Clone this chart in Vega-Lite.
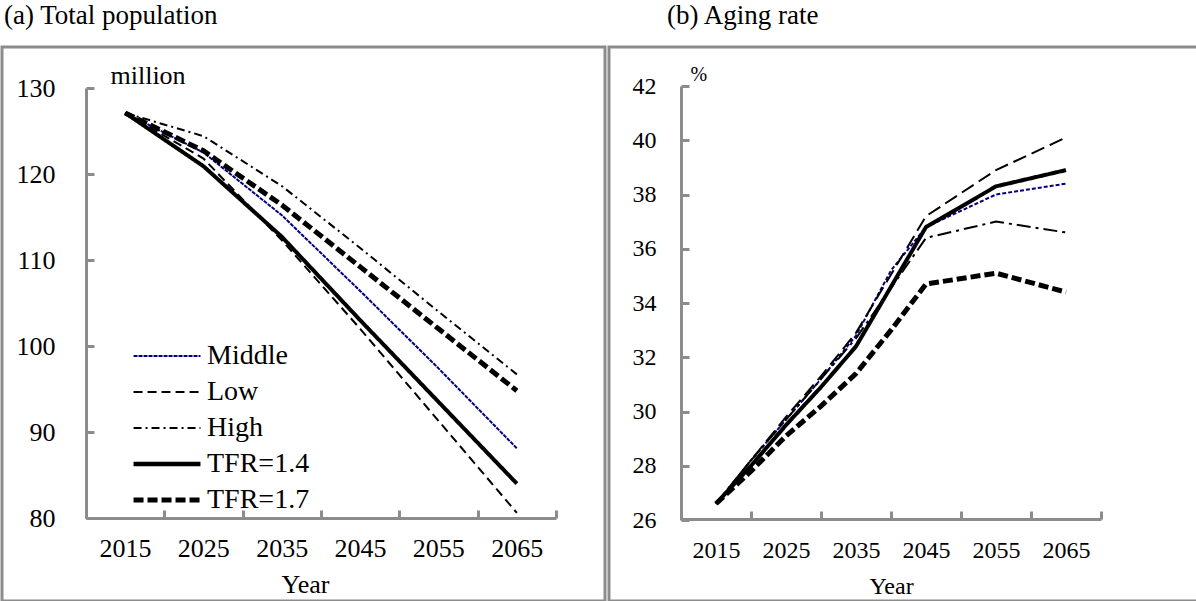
{
  "$schema": "https://vega.github.io/schema/vega-lite/v6.json",
  "padding": 0,
  "spacing": 0,
  "background": "white",
  "config": {
    "view": {"stroke": "#8c8c8c", "strokeWidth": 3},
    "font": "Liberation Serif",
    "title": {"font": "Liberation Serif", "fontSize": 27, "fontWeight": "normal", "anchor": "start", "color": "black", "offset": 17},
    "axis": {
      "labelFont": "Liberation Serif", "titleFont": "Liberation Serif",
      "labelColor": "black", "titleColor": "black", "titleFontWeight": "normal",
      "domainColor": "#8c8c8c", "tickColor": "#8c8c8c", "domainWidth": 3, "tickWidth": 3,
      "grid": false, "tickSize": -8, "labelFlush": false, "labelOverlap": false, "labelBound": false
    },
    "line": {"strokeJoin": "miter", "strokeCap": "butt"}
  },
  "datasets": {
    "pop": [
      {"scenario": "Middle", "year": 2015, "value": 127.1},
      {"scenario": "Middle", "year": 2025, "value": 122.5},
      {"scenario": "Middle", "year": 2035, "value": 115.2},
      {"scenario": "Middle", "year": 2045, "value": 106.4},
      {"scenario": "Middle", "year": 2055, "value": 97.4},
      {"scenario": "Middle", "year": 2065, "value": 88.1},
      {"scenario": "Low", "year": 2015, "value": 127.1},
      {"scenario": "Low", "year": 2025, "value": 121.8},
      {"scenario": "Low", "year": 2035, "value": 112.3},
      {"scenario": "Low", "year": 2045, "value": 102.0},
      {"scenario": "Low", "year": 2055, "value": 91.3},
      {"scenario": "Low", "year": 2065, "value": 80.6},
      {"scenario": "High", "year": 2015, "value": 127.1},
      {"scenario": "High", "year": 2025, "value": 124.4},
      {"scenario": "High", "year": 2035, "value": 118.6},
      {"scenario": "High", "year": 2045, "value": 111.4},
      {"scenario": "High", "year": 2055, "value": 104.0},
      {"scenario": "High", "year": 2065, "value": 96.7},
      {"scenario": "TFR=1.4", "year": 2015, "value": 127.1},
      {"scenario": "TFR=1.4", "year": 2025, "value": 120.9},
      {"scenario": "TFR=1.4", "year": 2035, "value": 112.7},
      {"scenario": "TFR=1.4", "year": 2045, "value": 103.0},
      {"scenario": "TFR=1.4", "year": 2055, "value": 93.5},
      {"scenario": "TFR=1.4", "year": 2065, "value": 84.0},
      {"scenario": "TFR=1.7", "year": 2015, "value": 127.1},
      {"scenario": "TFR=1.7", "year": 2025, "value": 122.7},
      {"scenario": "TFR=1.7", "year": 2035, "value": 116.4},
      {"scenario": "TFR=1.7", "year": 2045, "value": 109.2},
      {"scenario": "TFR=1.7", "year": 2055, "value": 102.0},
      {"scenario": "TFR=1.7", "year": 2065, "value": 94.8}
    ],
    "aging": [
      {"scenario": "Middle", "year": 2015, "value": 26.6},
      {"scenario": "Middle", "year": 2020, "value": 28.2},
      {"scenario": "Middle", "year": 2025, "value": 29.7},
      {"scenario": "Middle", "year": 2030, "value": 31.2},
      {"scenario": "Middle", "year": 2035, "value": 32.8},
      {"scenario": "Middle", "year": 2040, "value": 35.2},
      {"scenario": "Middle", "year": 2045, "value": 36.8},
      {"scenario": "Middle", "year": 2055, "value": 38.0},
      {"scenario": "Middle", "year": 2065, "value": 38.4},
      {"scenario": "Low", "year": 2015, "value": 26.6},
      {"scenario": "Low", "year": 2020, "value": 28.2},
      {"scenario": "Low", "year": 2025, "value": 29.8},
      {"scenario": "Low", "year": 2030, "value": 31.3},
      {"scenario": "Low", "year": 2035, "value": 32.9},
      {"scenario": "Low", "year": 2045, "value": 37.2},
      {"scenario": "Low", "year": 2055, "value": 38.9},
      {"scenario": "Low", "year": 2065, "value": 40.1},
      {"scenario": "High", "year": 2015, "value": 26.6},
      {"scenario": "High", "year": 2020, "value": 28.2},
      {"scenario": "High", "year": 2025, "value": 29.7},
      {"scenario": "High", "year": 2030, "value": 31.2},
      {"scenario": "High", "year": 2035, "value": 32.7},
      {"scenario": "High", "year": 2045, "value": 36.4},
      {"scenario": "High", "year": 2055, "value": 37.0},
      {"scenario": "High", "year": 2065, "value": 36.6},
      {"scenario": "TFR=1.4", "year": 2015, "value": 26.6},
      {"scenario": "TFR=1.4", "year": 2020, "value": 28.0},
      {"scenario": "TFR=1.4", "year": 2025, "value": 29.5},
      {"scenario": "TFR=1.4", "year": 2030, "value": 30.9},
      {"scenario": "TFR=1.4", "year": 2035, "value": 32.4},
      {"scenario": "TFR=1.4", "year": 2045, "value": 36.8},
      {"scenario": "TFR=1.4", "year": 2055, "value": 38.3},
      {"scenario": "TFR=1.4", "year": 2065, "value": 38.9},
      {"scenario": "TFR=1.7", "year": 2015, "value": 26.6},
      {"scenario": "TFR=1.7", "year": 2020, "value": 27.8},
      {"scenario": "TFR=1.7", "year": 2025, "value": 29.1},
      {"scenario": "TFR=1.7", "year": 2030, "value": 30.2},
      {"scenario": "TFR=1.7", "year": 2035, "value": 31.4},
      {"scenario": "TFR=1.7", "year": 2040, "value": 33.0},
      {"scenario": "TFR=1.7", "year": 2045, "value": 34.7},
      {"scenario": "TFR=1.7", "year": 2055, "value": 35.1},
      {"scenario": "TFR=1.7", "year": 2065, "value": 34.4}
    ]
  },
  "hconcat": [
    {
      "title": {"text": "(a) Total population", "dx": 2},
      "width": 603,
      "height": 554,
      "data": {"name": "pop"},
      "mark": {"type": "line"},
      "encoding": {
        "x": {
          "field": "year", "type": "quantitative",
          "scale": {"domain": [2010, 2070], "range": [84, 554], "nice": false, "zero": false},
          "axis": {
            "values": [2010, 2020, 2030, 2040, 2050, 2060, 2070],
            "labelExpr": "datum.value < 2070 ? '' + (datum.value + 5) : ''",
            "labelOffset": 39, "labelPadding": 25, "labelFontSize": 26,
            "offset": -83,
            "title": "Year", "titleFontSize": 26, "titleAlign": "center", "titleBaseline": "alphabetic",
            "titleX": 303, "titleY": 74
          }
        },
        "y": {
          "field": "value", "type": "quantitative",
          "scale": {"domain": [80, 130], "range": [471, 41], "nice": false, "zero": false},
          "axis": {
            "values": [80, 90, 100, 110, 120, 130],
            "offset": -84, "labelFontSize": 26, "labelPadding": 39,
            "title": "million", "titleAngle": 0, "titleAlign": "left", "titleBaseline": "alphabetic",
            "titleX": 24, "titleY": 36, "titleFontSize": 26
          }
        },
        "color": {
          "field": "scenario", "type": "nominal",
          "scale": {"domain": ["Middle", "Low", "High", "TFR=1.4", "TFR=1.7"], "range": ["#000080", "black", "black", "black", "black"]},
          "legend": {
            "orient": "none", "legendX": 131, "legendY": 295, "title": null,
            "labelFontSize": 28, "labelFont": "Liberation Serif", "labelColor": "black", "labelLimit": 0,
            "symbolType": "M-4,0H4", "symbolSize": 280, "symbolOffset": 20, "labelOffset": 26,
            "rowPadding": 8, "padding": 0,
            "symbolStrokeWidth": {"expr": "datum.value == 'TFR=1.4' ? 4.5 : datum.value == 'TFR=1.7' ? 5 : 2"}
          }
        },
        "strokeDash": {
          "field": "scenario", "type": "nominal",
          "scale": {"domain": ["Middle", "Low", "High", "TFR=1.4", "TFR=1.7"], "range": [[4, 1], [9, 5], [8, 4, 2, 4], [1, 0], [10, 4]]},
          "legend": {
            "orient": "none", "legendX": 131, "legendY": 295, "title": null,
            "labelFontSize": 28, "labelFont": "Liberation Serif", "labelColor": "black", "labelLimit": 0,
            "symbolType": "M-4,0H4", "symbolSize": 280, "symbolOffset": 20, "labelOffset": 26,
            "rowPadding": 8, "padding": 0,
            "symbolStrokeWidth": {"expr": "datum.value == 'TFR=1.4' ? 4.5 : datum.value == 'TFR=1.7' ? 5 : 2"}
          }
        },
        "strokeWidth": {
          "condition": [
            {"test": "datum.scenario == 'TFR=1.4'", "value": 4},
            {"test": "datum.scenario == 'TFR=1.7'", "value": 5}
          ],
          "value": 2
        }
      }
    },
    {
      "title": {"text": "(b) Aging rate", "dx": 58},
      "width": 591,
      "height": 554,
      "data": {"name": "aging"},
      "mark": {"type": "line"},
      "encoding": {
        "x": {
          "field": "year", "type": "quantitative",
          "scale": {"domain": [2010, 2070], "range": [72, 492], "nice": false, "zero": false},
          "axis": {
            "values": [2010, 2020, 2030, 2040, 2050, 2060, 2070],
            "labelExpr": "datum.value < 2070 ? '' + (datum.value + 5) : ''",
            "labelOffset": 35, "labelPadding": 27, "labelFontSize": 24,
            "offset": -82,
            "title": "Year", "titleFontSize": 24, "titleAlign": "center", "titleBaseline": "alphabetic",
            "titleX": 282, "titleY": 74
          }
        },
        "y": {
          "field": "value", "type": "quantitative",
          "scale": {"domain": [26, 42], "range": [473, 39], "nice": false, "zero": false},
          "axis": {
            "values": [26, 28, 30, 32, 34, 36, 38, 40, 42],
            "offset": -72, "labelFontSize": 24, "labelPadding": 33,
            "title": "%", "titleAngle": 0, "titleAlign": "left", "titleBaseline": "alphabetic",
            "titleX": 9, "titleY": 33, "titleFontSize": 20
          }
        },
        "color": {
          "field": "scenario", "type": "nominal",
          "scale": {"domain": ["Middle", "Low", "High", "TFR=1.4", "TFR=1.7"], "range": ["#000080", "black", "black", "black", "black"]},
          "legend": null
        },
        "strokeDash": {
          "field": "scenario", "type": "nominal",
          "scale": {"domain": ["Middle", "Low", "High", "TFR=1.4", "TFR=1.7"], "range": [[4, 2], [14, 6], [14, 5, 3, 5], [1, 0], [10, 4]]},
          "legend": null
        },
        "strokeWidth": {
          "condition": [
            {"test": "datum.scenario == 'TFR=1.4'", "value": 4},
            {"test": "datum.scenario == 'TFR=1.7'", "value": 5}
          ],
          "value": 2
        }
      }
    }
  ],
  "resolve": {
    "scale": {"x": "independent", "y": "independent", "color": "independent", "strokeDash": "independent"},
    "legend": {"color": "independent", "strokeDash": "independent"}
  }
}
